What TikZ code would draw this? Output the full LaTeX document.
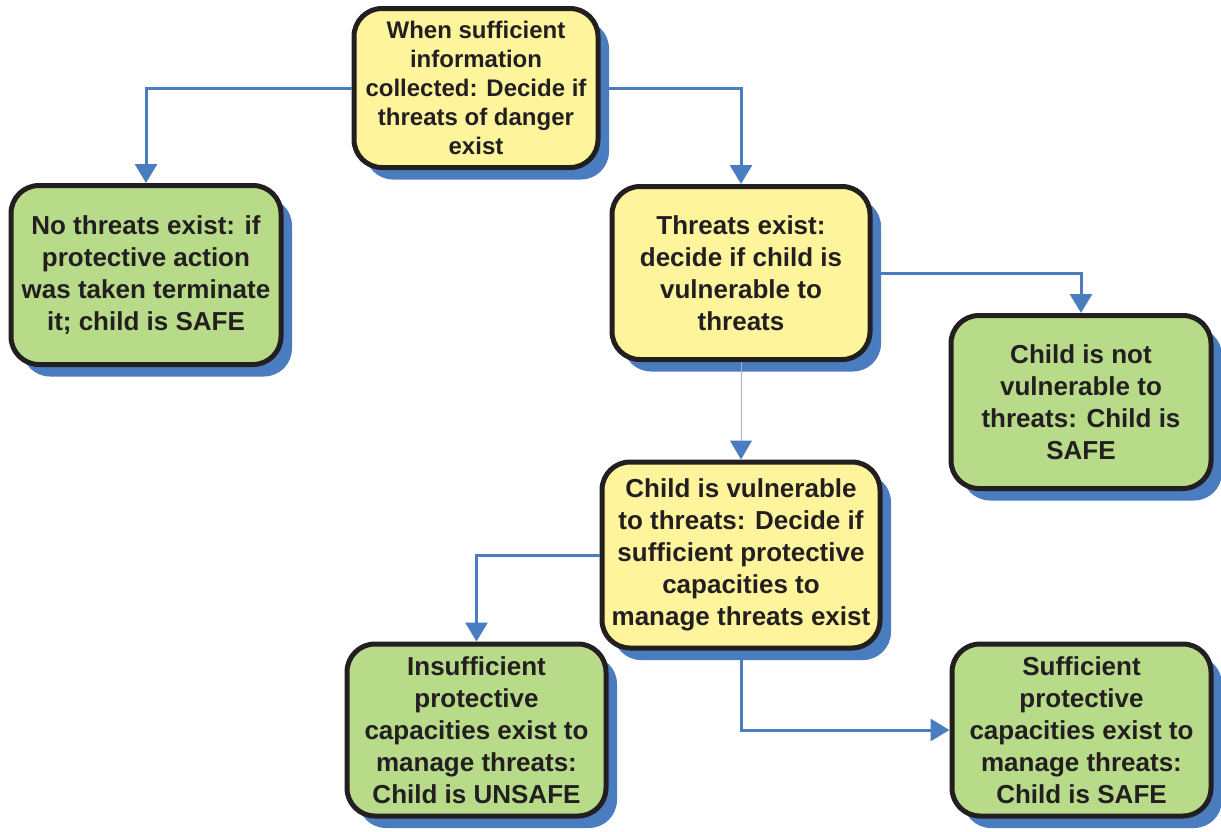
\documentclass[tikz,border=0pt]{standalone}
\usepackage{fontspec}
\setmainfont{Liberation Sans}
\usetikzlibrary{shadows,arrows.meta}
\definecolor{yel}{HTML}{FEF49C}
\definecolor{grn}{HTML}{B8DB8A}
\definecolor{shd}{HTML}{4A7CC0}
\definecolor{ink}{HTML}{231F20}
\definecolor{conn}{HTML}{4A7CC0}
\definecolor{thinc}{HTML}{A8AEC4}
\begin{document}
\begin{tikzpicture}[x=1pt,y=-1pt,
  box/.style={draw=ink, line width=5pt, rounded corners=28pt, align=center,
    text=ink, font=\fontsize{26}{32}\selectfont\bfseries, inner sep=0pt,
    drop shadow={shadow xshift=11pt, shadow yshift=-12pt, fill=shd, opacity=1}},
  ybox/.style={box, fill=yel},
  gbox/.style={box, fill=grn},
  arr/.style={draw=conn, line width=3pt,
    -{Triangle[length=19pt 0 0,width=22pt 0 0,color=conn]}},
  thinarr/.style={draw=thinc, line width=1pt,
    -{Triangle[length=19pt 0 0,width=22pt 0 0,color=conn]}}
]
\useasboundingbox (0,0) rectangle (1221,831);
\node[ybox, minimum width=244pt, minimum height=159pt,
  font=\fontsize{24}{29}\selectfont\bfseries] (A) at (476,88)
  {When sufficient\\information\\collected: Decide if\\threats of danger\\exist};
\node[gbox, minimum width=270pt, minimum height=179pt] (B) at (146,275)
  {No threats exist: if\\protective action\\was taken terminate\\it; child is SAFE};
\node[ybox, minimum width=258pt, minimum height=173pt] (C) at (741,273)
  {Threats exist:\\decide if child is\\vulnerable to\\threats};
\node[gbox, minimum width=260pt, minimum height=173pt] (D) at (1081,402)
  {Child is not\\vulnerable to\\threats: Child is\\SAFE};
\node[ybox, minimum width=278pt, minimum height=186pt] (E) at (741,555)
  {Child is vulnerable\\to threats: Decide if\\sufficient protective\\capacities to\\manage threats exist};
\node[gbox, minimum width=259pt, minimum height=172pt] (F) at (476.5,730)
  {Insufficient\\protective\\capacities exist to\\manage threats:\\Child is UNSAFE};
\node[gbox, minimum width=259pt, minimum height=172pt] (G) at (1081.5,730)
  {Sufficient\\protective\\capacities exist to\\manage threats:\\Child is SAFE};
\draw[arr] (A.west) -| (B.north);
\draw[arr] (A.east) -| (C.north);
\draw[arr] (C.east) -| (D.north);
\draw[thinarr] (C.south) -- (E.north);
\draw[arr] (E.west) -| (F.north);
\draw[arr] (E.south) |- (G.west);
\end{tikzpicture}
\end{document}
